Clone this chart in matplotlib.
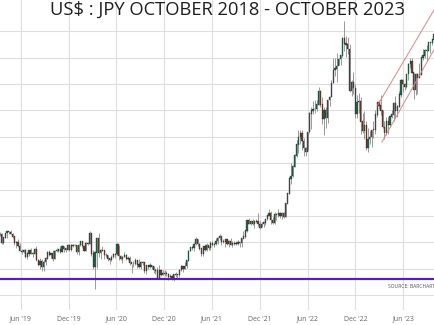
import matplotlib
matplotlib.use("Agg")
import matplotlib.pyplot as plt
import matplotlib.dates as mdates
import pandas as pd
import numpy as np

# weekly USD/JPY candles, week ending Friday, first week ends 2019-03-15
first_open = 111.20

close = [
    # 2019
    111.46, 109.93, 110.86, 111.73, 112.02, 111.92, 111.57, 111.10, 109.95, 110.07,
    109.29, 108.29, 108.18, 108.57, 107.31, 107.85, 108.47, 107.88, 107.72, 108.68,
    106.59, 105.69, 106.37, 105.38, 106.28, 106.92, 108.09, 107.56, 107.91, 106.93,
    108.28, 108.44, 108.67, 108.19, 109.27, 108.78, 108.65, 109.48, 108.59, 109.37,
    109.42, 109.45,
    # 2020
    108.10, 109.50, 110.14, 109.27, 108.35, 109.75, 109.77, 111.61, 107.89, 105.38,
    108.03, 110.81, 107.95, 108.47, 108.44, 107.53, 107.53, 106.89, 106.69, 107.17,
    107.64, 107.78, 109.62, 107.37, 106.87, 107.18, 107.50, 106.91, 107.01, 106.12,
    105.83, 105.92, 106.60, 105.79, 105.37, 106.24, 106.16, 104.56, 105.59, 105.34,
    105.61, 105.40, 104.70, 104.66, 103.35, 104.62, 103.82, 104.07, 104.17, 104.03,
    103.36, 103.62,
    # 2021
    103.25, 103.95, 103.85, 103.78, 104.69, 105.38, 104.95, 105.46, 106.57, 108.33,
    109.04, 108.88, 109.64, 110.62, 109.67, 108.78, 107.88, 109.31, 108.59, 109.37,
    108.95, 109.84, 109.52, 109.66, 110.21, 110.76, 111.05, 110.13, 110.06, 110.55,
    109.71, 110.25, 109.58, 109.79, 109.83, 109.71, 109.91, 109.94, 110.73, 111.06,
    112.24, 114.21, 113.45, 113.96, 113.40, 113.88, 114.03, 113.39, 112.80, 113.40,
    113.70, 114.38, 115.08,
    # 2022
    115.56, 114.19, 113.68, 115.26, 115.20, 115.43, 114.99, 115.56, 114.80, 117.31,
    119.19, 122.05, 122.53, 124.34, 126.40, 128.50, 129.87, 130.56, 129.19, 127.87,
    127.11, 130.87, 134.40, 134.92, 135.21, 135.21, 136.08, 138.55, 136.05, 133.28,
    135.00, 133.47, 136.91, 137.51, 140.19, 142.58, 142.92, 143.34, 144.74, 145.35,
    148.69, 147.65, 147.47, 146.62, 138.76, 140.38, 139.19, 134.30, 136.60, 136.66,
    132.89, 131.12,
    # 2023
    132.08, 127.90, 129.59, 129.87, 131.19, 131.37, 134.14, 136.47, 135.85, 134.97,
    131.80, 130.73, 132.82, 132.18, 133.78, 134.17, 136.29, 134.85, 135.71, 137.97,
    140.61, 139.98, 139.38, 141.85, 143.71, 144.32, 142.11, 138.82, 141.76, 141.16,
    141.77, 144.96, 145.38, 146.41, 146.21, 147.81, 147.85, 148.35, 149.37, 149.32,
]

high = [
    # 2019
    111.9, 111.7, 111.0, 111.8, 112.1, 112.2, 112.4, 111.7, 111.1, 110.3,
    110.7, 109.9, 108.7, 108.8, 108.8, 108.2, 108.6, 108.9, 108.2, 108.9,
    109.3, 106.9, 107.1, 106.8, 106.7, 107.3, 108.3, 108.5, 108.0, 108.5,
    108.6, 108.9, 108.8, 109.3, 109.5, 109.3, 109.0, 109.7, 109.7, 109.7,
    109.7, 109.7,
    # 2020
    109.6, 109.7, 110.3, 110.2, 109.3, 110.0, 110.1, 112.2, 111.7, 108.5,
    108.3, 111.0, 111.7, 108.7, 109.4, 108.1, 108.0, 107.7, 107.0, 107.7,
    107.9, 107.9, 109.9, 109.5, 107.6, 107.4, 108.2, 107.8, 107.4, 107.4,
    106.0, 106.4, 107.0, 106.6, 106.9, 106.5, 106.4, 106.1, 105.8, 105.8,
    106.1, 105.8, 105.6, 105.1, 105.3, 105.7, 104.8, 104.8, 104.7, 104.5,
    104.2, 104.0,
    # 2021
    103.9, 104.1, 104.4, 104.1, 104.9, 105.8, 105.6, 106.2, 106.7, 108.6,
    109.2, 109.4, 109.9, 111.0, 110.7, 109.9, 108.8, 109.3, 109.7, 109.8,
    109.4, 110.2, 110.3, 109.9, 110.8, 111.0, 111.6, 111.0, 110.7, 110.6,
    110.6, 110.4, 110.8, 110.2, 110.2, 110.3, 110.4, 110.1, 110.8, 112.1,
    112.3, 114.3, 114.7, 114.3, 114.4, 114.3, 114.5, 115.5, 114.0, 113.9,
    114.0, 114.5, 115.2,
    # 2022
    116.3, 115.9, 114.9, 115.7, 115.6, 116.3, 115.7, 115.8, 115.8, 117.4,
    119.4, 122.4, 125.1, 124.7, 126.7, 129.4, 131.3, 131.3, 131.3, 129.8,
    128.0, 130.9, 134.6, 135.6, 136.7, 137.0, 137.0, 139.4, 138.9, 137.5,
    135.6, 135.6, 137.0, 137.7, 140.8, 145.0, 144.9, 145.9, 144.9, 145.4,
    148.8, 151.95, 149.0, 148.8, 147.5, 140.8, 142.3, 139.9, 137.9, 138.2,
    137.5, 134.5,
    # 2023
    134.8, 132.9, 131.6, 131.1, 131.3, 132.9, 135.0, 136.5, 136.9, 137.9,
    135.1, 133.0, 133.8, 133.8, 134.0, 135.1, 136.6, 137.8, 136.0, 138.7,
    140.9, 140.9, 140.2, 141.9, 143.9, 145.0, 144.9, 142.0, 142.0, 142.0,
    143.9, 145.0, 146.6, 146.6, 147.4, 147.9, 147.9, 148.5, 149.7, 150.2,
]

low = [
    # 2019
    111.2, 109.7, 109.7, 110.8, 110.8, 111.6, 111.5, 110.9, 109.5, 109.0,
    109.1, 108.3, 107.8, 108.0, 107.1, 106.8, 107.5, 107.8, 107.2, 107.8,
    106.5, 105.5, 105.0, 104.5, 104.5, 105.7, 106.8, 107.5, 107.0, 106.5,
    106.8, 108.2, 108.2, 107.9, 108.2, 108.2, 108.2, 108.6, 108.4, 108.4,
    109.2, 109.3,
    # 2020
    107.8, 107.6, 109.3, 109.2, 108.3, 108.3, 109.6, 109.7, 107.5, 105.0,
    101.2, 105.1, 107.2, 106.9, 108.3, 106.9, 107.3, 106.4, 106.0, 106.5,
    107.0, 107.1, 107.6, 106.6, 106.6, 106.1, 107.2, 106.6, 106.6, 105.7,
    104.2, 105.3, 105.8, 105.1, 105.2, 104.9, 105.8, 104.3, 104.0, 104.9,
    105.2, 105.0, 104.3, 104.0, 103.2, 103.2, 103.6, 103.8, 103.6, 103.6,
    102.9, 103.3,
    # 2021
    102.9, 102.6, 103.5, 103.3, 103.5, 104.6, 104.4, 104.9, 105.1, 106.4,
    108.3, 108.6, 108.4, 109.6, 109.4, 108.6, 107.5, 107.5, 108.3, 108.4,
    108.6, 108.6, 109.3, 109.2, 109.6, 109.7, 110.4, 109.5, 109.9, 109.1,
    109.5, 109.2, 109.5, 109.1, 109.6, 109.6, 109.6, 109.1, 109.1, 110.8,
    110.8, 112.0, 113.4, 113.3, 113.3, 112.7, 113.9, 113.1, 112.5, 112.9,
    113.0, 113.3, 114.3,
    # 2022
    115.1, 113.5, 113.5, 113.5, 114.2, 114.9, 114.7, 114.4, 114.7, 114.9,
    117.7, 119.1, 121.0, 122.3, 124.3, 126.2, 126.9, 128.6, 127.5, 126.4,
    126.4, 127.5, 130.7, 131.5, 134.3, 134.5, 134.8, 136.0, 135.6, 132.5,
    130.4, 131.7, 132.6, 135.8, 137.5, 140.2, 141.6, 140.4, 143.5, 143.5,
    145.2, 146.2, 145.1, 145.7, 138.5, 137.7, 138.1, 133.6, 133.6, 134.5,
    130.6, 130.8,
    # 2023
    129.5, 127.5, 127.2, 128.7, 128.1, 129.8, 130.6, 133.8, 135.3, 134.1,
    131.7, 129.6, 130.4, 130.6, 131.9, 133.5, 133.0, 133.5, 133.7, 135.6,
    137.6, 138.4, 138.8, 139.3, 140.7, 143.1, 142.0, 137.2, 138.0, 138.1,
    141.5, 141.7, 144.6, 145.0, 144.4, 146.2, 145.9, 147.3, 148.3, 147.3,
]

tick_dates = ['2019-06-01', '2019-12-01', '2020-06-01', '2020-12-01', '2021-06-01',
              '2021-12-01', '2022-06-01', '2022-12-01', '2023-06-01']
tick_labels = ["Jun '19", "Dec '19", "Jun '20", "Dec '20", "Jun '21",
               "Dec '21", "Jun '22", "Dec '22", "Jun '23"]

support_level = 103.0
# rising channel drawn on 2023
channel_upper = (['2023-02-24', '2023-10-03'], [136.0, 154.5])
channel_lower = (['2023-03-12', '2023-10-03'], [129.0, 147.0])

up_color = '#1f6b4c'
down_color = '#7c3a2c'

# build the candles
weeks = pd.date_range('2019-03-15', periods=len(close), freq='W-FRI') - pd.Timedelta(days=2)
x = mdates.date2num(weeks)
c = np.array(close)
o = np.concatenate([[first_open], c[:-1]])
h = np.array(high)
l = np.array(low)

fig = plt.figure(figsize=(4.35, 3.25), dpi=100)
ax = fig.add_axes([0, 15 / 325, 1, 310 / 325])

up = c >= o
colors = np.where(up, up_color, down_color)
ax.vlines(x, l, h, color='#8a8a8a', linewidth=0.6, zorder=2)
ax.bar(x, np.abs(c - o) + 0.08, bottom=np.minimum(o, c), width=4.5,
       color=colors, edgecolor='#2a2a2a', linewidth=0.25, zorder=3)

# horizontal support line
ax.axhline(support_level, color='#5e1fa8', linewidth=1.6, zorder=4)

for xs, ys in (channel_upper, channel_lower):
    ax.plot(mdates.date2num(pd.to_datetime(xs)), ys, color='#e08585', linewidth=0.7, zorder=4)

ax.set_xlim(mdates.date2num(pd.Timestamp('2019-03-14')), mdates.date2num(pd.Timestamp('2023-10-01')))
ax.set_ylim(97.2, 155.9)

ax.set_xticks(mdates.date2num(pd.to_datetime(tick_dates)))
ax.set_xticklabels(tick_labels, fontsize=5, color='#666666', family='Open Sans')
ax.set_yticks(np.arange(100, 151, 5))
ax.tick_params(axis='y', left=False, labelleft=False)
ax.tick_params(axis='x', length=0, pad=4)
ax.grid(True, color='#dedede', linewidth=0.8, zorder=0)
ax.set_axisbelow(True)
for s in ax.spines.values():
    s.set_visible(False)

fig.text(0.522, 0.971, 'US$ : JPY OCTOBER 2018 - OCTOBER 2023', ha='center', va='center',
         fontsize=13.2, color='#1e1e1e', family='Open Sans')
ax.text(0.893, 0.075, 'SOURCE: BARCHART', transform=ax.transAxes, fontsize=3.6,
        color='#555555', family='Open Sans', va='center', ha='left', clip_on=False)

fig.savefig('out.png', dpi=100)
